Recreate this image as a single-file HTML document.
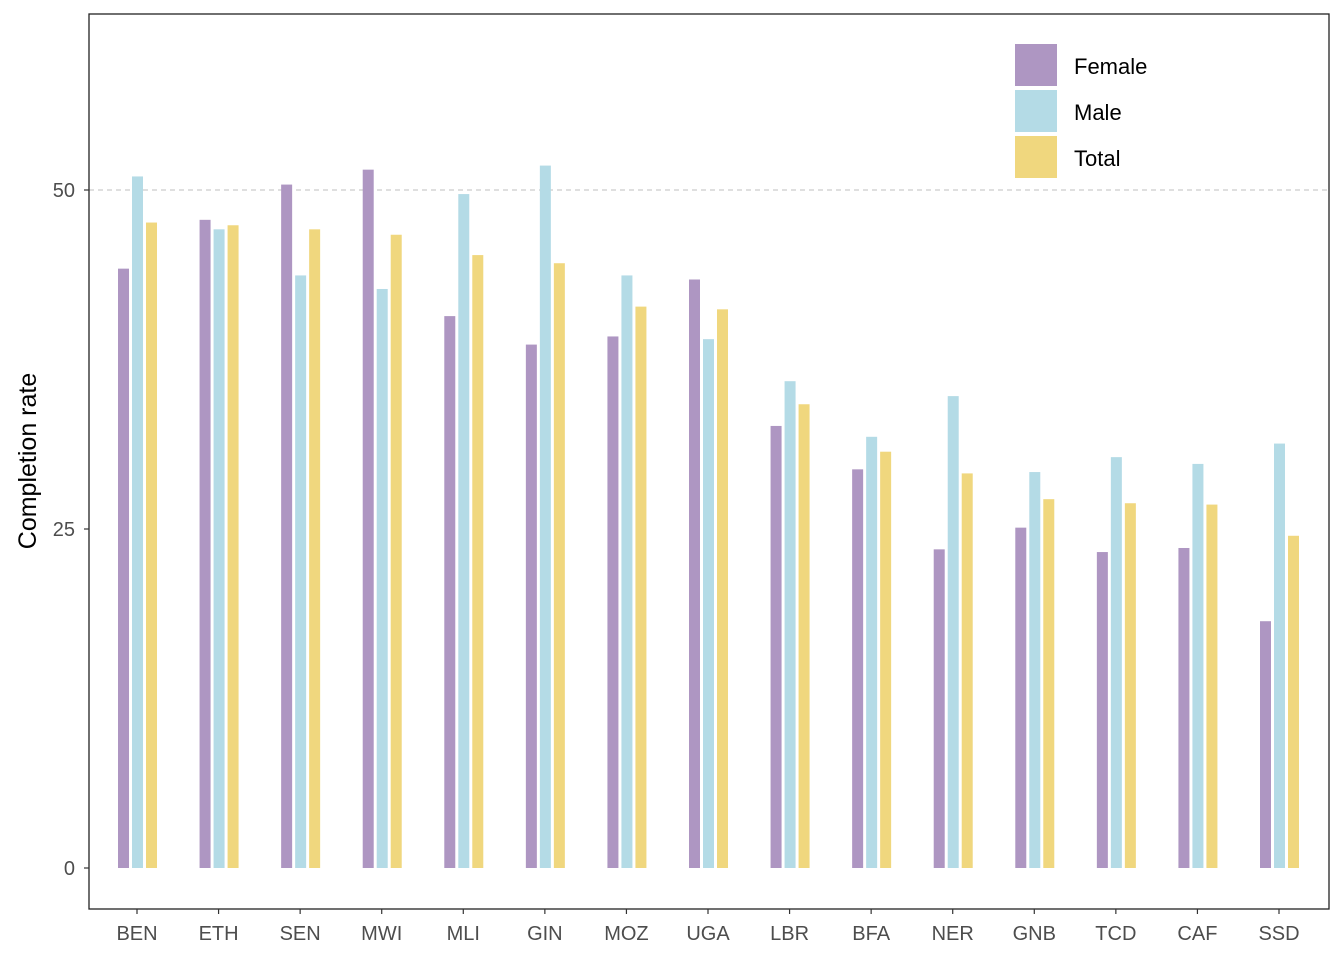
<!DOCTYPE html>
<html><head><meta charset="utf-8"><style>
html,body{margin:0;padding:0;background:#fff;}
svg{display:block;font-family:"Liberation Sans",Arial,sans-serif;}
</style></head><body>
<svg id="chart" width="1344" height="960" viewBox="0 0 1344 960">
<rect x="0" y="0" width="1344" height="960" fill="#fff"/>
<g id="plot"></g>
</svg>
<script>
const categories=["BEN","ETH","SEN","MWI","MLI","GIN","MOZ","UGA","LBR","BFA","NER","GNB","TCD","CAF","SSD"];
const female=[44.2,47.8,50.4,51.5,40.7,38.6,39.2,43.4,32.6,29.4,23.5,25.1,23.3,23.6,18.2];
const male=[51.0,47.1,43.7,42.7,49.7,51.8,43.7,39.0,35.9,31.8,34.8,29.2,30.3,29.8,31.3];
const total=[47.6,47.4,47.1,46.7,45.2,44.6,41.4,41.2,34.2,30.7,29.1,27.2,26.9,26.8,24.5];
const yTicks=[0,25,50];
const seriesNames=["Female","Male","Total"];
const colors=["#ae96c2","#b4dbe6","#f0d77e"];

const NS="http://www.w3.org/2000/svg";
const g=document.getElementById('plot');
function el(tag,attrs,parent){const e=document.createElementNS(NS,tag);for(const k in attrs)e.setAttribute(k,attrs[k]);(parent||g).appendChild(e);return e;}
const L=89,T=14,R=1329,B=909;
const y=v=>868-v*(678/50);
const x=i=>137+i*(1142/14);

let ref=el('line',{x1:L,x2:R,y1:y(50),y2:y(50),stroke:'#cccccc','stroke-width':1.3,'stroke-dasharray':'5,4'});



const series=[female,male,total];
const bw=11,offs=[-19,-5,9];
series.forEach((s,si)=>{
  s.forEach((v,i)=>{
    const r=el('rect',{x:x(i)+offs[si],y:y(v),width:bw,height:y(0)-y(v),fill:colors[si]});
    
    
  });
});

let border=el('rect',{x:L,y:T,width:R-L,height:B-T,fill:'none',stroke:'#222',"stroke-width":1.3});



yTicks.forEach(t=>{
  let tk=el('line',{x1:L-5,x2:L,y1:y(t),y2:y(t),stroke:'#333','stroke-width':1.2});
  
  
  let tx=el('text',{x:L-14,y:y(t)+7,'text-anchor':'end','font-size':20,fill:'#4d4d4d'});
  tx.textContent=t;
  
  
});
categories.forEach((c,i)=>{
  let tk=el('line',{x1:x(i),x2:x(i),y1:B,y2:B+5,stroke:'#333','stroke-width':1.2});
  
  
  let tx=el('text',{x:x(i),y:940,'text-anchor':'middle','font-size':20,fill:'#4d4d4d'});
  tx.textContent=c;
  
  
});
let yt=el('text',{x:0,y:0,transform:'translate(36,461) rotate(-90)','text-anchor':'middle','font-size':25,fill:'#000'});
yt.textContent='Completion rate';



seriesNames.forEach((n,i)=>{
  let k=el('rect',{x:1015,y:44+i*46,width:42,height:42,fill:colors[i]});
  
  
  let t=el('text',{x:1074,y:74+i*46,'font-size':22,fill:'#000'});
  t.textContent=n;
  
  
});
</script>
</body></html>
